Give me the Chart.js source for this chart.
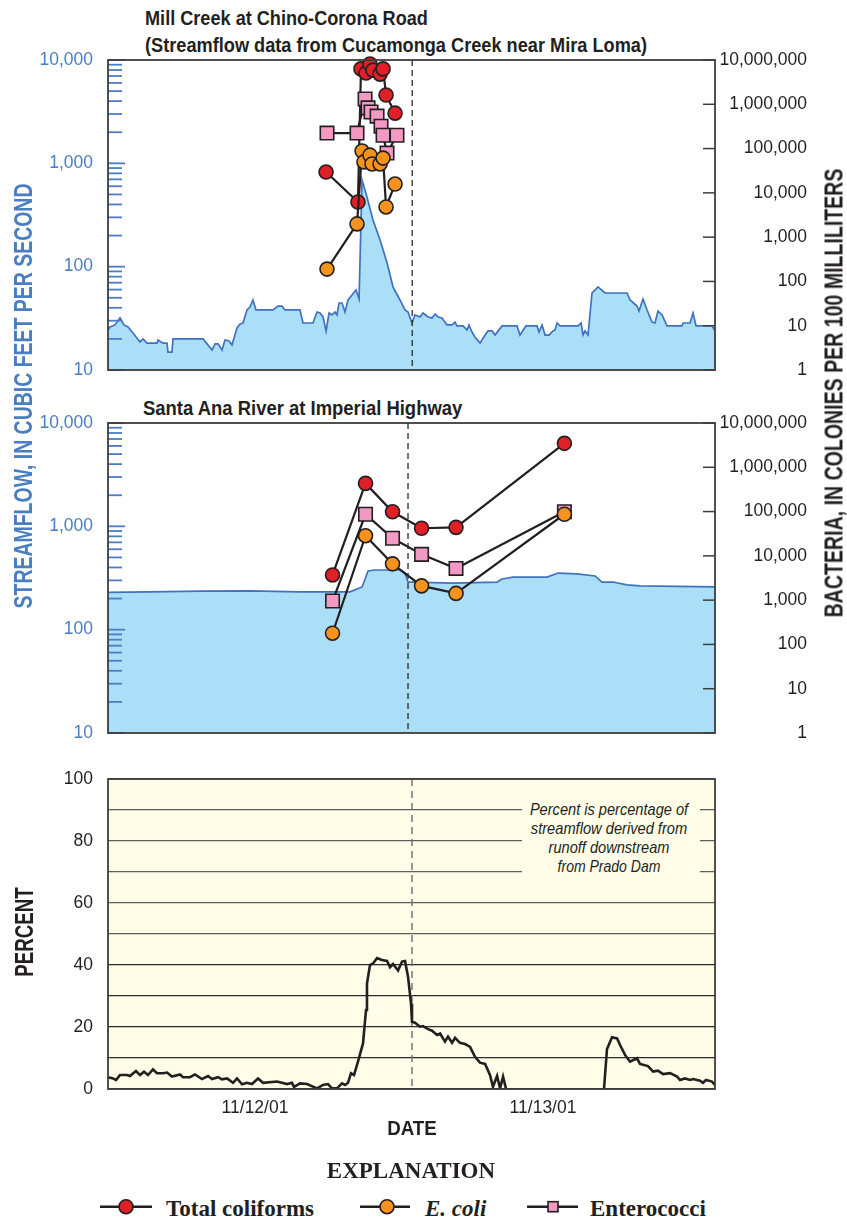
<!DOCTYPE html>
<html>
<head>
<meta charset="utf-8">
<title>Streamflow, bacteria and runoff percentage, November 2001</title>
<script src="https://cdn.jsdelivr.net/npm/chart.js@4.4.1/dist/chart.umd.min.js"></script>
<style>
  html, body { margin: 0; padding: 0; background: #fff; }
  body { width: 847px; height: 1222px; position: relative; overflow: hidden;
         font-family: 'Liberation Sans', Arial, sans-serif; color: #231f20; }
  canvas { position: absolute; left: 0; }
  .txt { position: absolute; white-space: nowrap; line-height: 1; display: inline-block; }
  .left { transform-origin: 0 50%; transform: scaleX(var(--sx, 1)); }
  .mid { transform-origin: 50% 50%; transform: translateX(-50%) scaleX(var(--sx, 1)); }
  .ttl { font-weight: bold; font-size: 21px; }
  .vert { position: absolute; white-space: nowrap; line-height: 1; font-weight: bold; font-size: 25px;
          transform-origin: 50% 50%;
          transform: translate(-50%, -50%) rotate(-90deg) scaleX(var(--sx, 1)); }
  .noteBg { position: absolute; left: 522px; top: 799px; width: 178px; height: 78px; background: #fffce8; }
  .note { font-style: italic; font-size: 17px; }
  .serif { font-family: 'Liberation Serif', 'Times New Roman', serif; font-weight: bold; font-size: 23px; line-height: 23px; position: absolute; white-space: nowrap; }
</style>
</head>
<body>

<div class="txt ttl left" data-w="283" style="left:145px;top:7px">Mill Creek at Chino-Corona Road</div>
<div class="txt ttl left" data-w="502" style="left:145px;top:34px">(Streamflow data from Cucamonga Creek near Mira Loma)</div>
<div class="txt ttl left" data-w="319" style="left:143px;top:397px">Santa Ana River at Imperial Highway</div>

<canvas id="mill" width="847" height="400" style="top:0px"></canvas>
<canvas id="santaAna" width="847" height="380" style="top:380px"></canvas>
<canvas id="percent" width="847" height="385" style="top:750px"></canvas>

<div class="vert" data-w="425" style="left:23px;top:396px;color:#4a7ec3">STREAMFLOW, IN CUBIC FEET PER SECOND</div>
<div class="vert" data-w="449" style="left:834px;top:393px">BACTERIA, IN COLONIES PER 100 MILLILITERS</div>
<div class="vert" data-w="89" style="left:24px;top:932px">PERCENT</div>

<div class="noteBg"></div>
<div class="txt note mid" data-w="158" style="left:609px;top:801px">Percent is percentage of</div>
<div class="txt note mid" data-w="156" style="left:609px;top:820px">streamflow derived from</div>
<div class="txt note mid" data-w="121" style="left:609px;top:839px">runoff downstream</div>
<div class="txt note mid" data-w="103" style="left:609px;top:858px">from Prado Dam</div>

<div class="txt mid" data-w="50" style="left:412px;top:1117px;font-weight:bold;font-size:21px">DATE</div>

<div class="serif" style="left:411px;top:1159px;transform:translateX(-50%)">EXPLANATION</div>
<svg width="847" height="30" style="position:absolute;left:0;top:1192px" xmlns="http://www.w3.org/2000/svg">
  <g stroke="#231f20" stroke-width="2.6">
    <line x1="100" y1="14.7" x2="152" y2="14.7"/>
    <line x1="360" y1="14.7" x2="410" y2="14.7"/>
    <line x1="527" y1="14.7" x2="578" y2="14.7"/>
  </g>
  <circle cx="126" cy="14.7" r="7" fill="#e01f26" stroke="#231f20" stroke-width="1.6"/>
  <circle cx="387" cy="14.7" r="7" fill="#f7931d" stroke="#231f20" stroke-width="1.6"/>
  <rect x="548" y="9.7" width="10" height="10" fill="#f29ac4" stroke="#231f20" stroke-width="1.6"/>
</svg>
<div class="serif" style="left:166px;top:1197px">Total coliforms</div>
<div class="serif" style="left:425px;top:1197px;font-style:italic">E. coli</div>
<div class="serif" style="left:590px;top:1197px">Enterococci</div>

<script>
// Condense HTML labels to their set widths
document.querySelectorAll('[data-w]').forEach(el => {
  el.style.setProperty('--sx', (+el.dataset.w / el.offsetWidth).toFixed(4));
});

// ---------------------------------------------------------------------------
// Time is given in hours from 11/12/01 00:00.
// ---------------------------------------------------------------------------

// Mill Creek at Chino-Corona Road: streamflow, in cubic feet per second
const millHours = [-0.25,-0.08,0.33,0.75,1.08,1.42,1.83,2.42,2.67,3.0,
  3.83,3.92,4.33,4.67,4.75,5.08,5.17,7.67,8.42,8.67,
  8.92,9.25,9.5,9.83,10.08,10.5,10.75,11.0,11.33,11.58,
  11.83,12.08,13.5,13.92,14.25,14.5,15.75,16.0,16.83,17.17,
  17.42,17.67,17.92,18.17,18.42,18.67,18.83,19.0,19.25,19.5,
  19.75,20.08,20.42,20.67,20.92,21.33,21.83,22.42,23.0,23.5,
  24.08,24.5,24.75,25.08,25.33,25.75,26.0,26.42,26.75,27.0,
  27.25,27.58,28.0,28.42,28.67,28.83,29.33,29.67,29.83,30.08,
  30.33,30.75,31.17,31.42,31.75,32.0,32.58,33.83,34.08,34.58,
  35.5,35.67,35.92,36.17,36.5,36.83,37.0,37.17,37.42,38.92,
  39.17,39.33,39.5,39.75,40.08,40.58,41.17,43.0,43.25,43.83,
  44.0,44.33,44.67,45.08,45.33,45.58,45.92,46.33,47.58,47.67,
  48.25,48.5,48.75,50.08,50.33];
const millFlow = [24.4,26.1,27.3,31.9,27.3,26.1,22.8,18.7,20.0,18.2,
  18.2,19.5,18.2,18.2,14.9,14.9,20.0,20.0,15.6,17.9,
  17.9,15.6,19.5,19.1,17.5,25.5,27.9,28.5,38.1,40.7,
  47.6,38.1,38.1,41.6,41.6,38.1,38.1,28.5,28.5,36.4,
  35.6,32.6,23.9,35.6,34.1,36.4,34.1,44.5,44.5,36.4,
  47.6,53.2,59.4,48.7,690,472,283,181,109,63.6,
  47.6,38.1,36.4,28.5,34.1,32.6,35.6,32.6,31.9,34.8,
  32.6,31.9,27.3,27.3,29.1,26.7,26.7,24.4,27.3,23.3,
  20.9,18.2,21.8,23.9,23.9,21.8,26.7,26.7,21.8,26.7,
  26.7,23.3,27.3,21.8,21.8,23.9,24.4,28.5,26.7,26.7,
  28.5,21.8,23.9,21.8,55.6,63.6,55.6,55.6,47.6,41.6,
  37.2,48.7,38.1,29.1,28.5,37.2,34.1,26.7,26.7,28.5,
  28.5,35.6,26.7,26.7,23.9];

// Mill Creek bacteria, in colonies per 100 milliliters
const millColiformHours = [17.92,20.58,20.83,21.25,21.58,21.83,22.42,22.67,22.92,23.67];
const millColiform = [29500,6200,6300000,5100000,8100000,5900000,4800000,6300000,1620000,630000];
const millEcoliHours = [18.0,20.5,20.92,21.08,21.58,21.75,22.42,22.67,22.92,23.67];
const millEcoli = [190,1990,88000,50000,71000,45000,45000,61000,4800,15800];
const millEnteroHours = [18.0,20.5,21.17,21.42,21.67,22.17,22.5,22.67,23.0,23.83];
const millEntero = [224000,224000,1320000,830000,670000,540000,320000,200000,79000,200000];

// Santa Ana River at Imperial Highway: streamflow, in cubic feet per second
const santaAnaHours = [-0.25,3.25,7.5,11.58,15.75,19.92,20.92,21.42,22.0,24.08,
  24.5,24.75,25.17,28.5,32.17,32.58,33.5,35.17,36.33,37.25,
  38.83,40.33,40.92,41.83,43.0,44.08,50.33];
const santaAnaFlow = [230,232,236,237,232,232,259,370,378,378,
  353,289,289,282,289,309,323,323,323,353,
  346,331,289,289,271,265,259];

// Santa Ana River bacteria, in colonies per 100 milliliters
const santaAnaSampleHours = [18.46,21.21,23.46,25.88,28.75,37.78];
const santaAnaColiform = [3700,433000,99000,42000,44000,3470000];
const santaAnaEcoli = [179,28500,6600,2100,1420,87000];
const santaAnaEntero = [955,87000,25000,10800,5200,99000];

// Percentage of streamflow derived from runoff downstream from Prado Dam
const percentHours = [-0.25,0.17,0.42,0.75,1.33,1.58,2.08,2.42,2.75,3.08,
  3.5,3.83,4.33,4.67,5.08,5.75,6.0,6.58,7.0,7.58,
  8.08,8.42,8.92,9.25,9.67,10.17,10.5,10.92,11.33,11.75,
  12.25,12.67,13.83,14.67,15.08,15.25,15.75,16.33,17.17,17.67,
  18.08,18.42,18.83,19.25,19.5,19.75,20.0,20.25,20.58,21.0,
  21.25,21.33,21.58,21.83,22.17,22.58,23.0,23.25,23.5,23.92,
  24.25,24.5,24.75,25.0,25.08,25.33,25.75,26.0,26.42,26.75,
  27.17,27.42,27.83,28.08,28.42,28.67,29.08,29.5,29.92,30.33,
  30.75,31.17,31.58,31.83,32.17,32.42,32.67,32.92,37.0,41.08,
  41.33,41.75,42.17,42.42,42.83,43.25,43.83,44.08,44.75,45.17,
  45.58,46.0,46.58,47.17,47.42,47.83,48.25,48.5,49.08,49.33,
  49.58,50.08,50.33];
const percentValues = [3.8,3.4,2.9,4.5,4.5,4.2,5.8,4.5,5.6,4.5,
  6.3,5.1,5.1,5.3,4.0,4.7,3.8,3.8,4.7,3.2,
  4.2,3.2,3.8,3.1,3.4,2.0,3.4,1.5,2.0,1.6,
  3.4,2.0,2.4,1.6,2.0,0.7,1.8,1.6,0.2,1.3,
  1.6,0.2,0.2,1.8,1.3,2.0,5.1,4.5,8.8,14.7,
  25.5,34,40,40.5,42.2,41.6,41.3,39.3,40.3,38.2,
  41.1,41.3,36.2,27.6,21.7,21.4,20.1,20.3,19.3,18.8,
  17.4,17.9,15.3,16.9,14.9,16.5,14.9,14.5,13.6,10.4,
  8.5,8.1,4.5,0.7,4.2,0.2,4.0,0,null,0,
  12.9,16.7,16.3,14.2,11.0,8.8,9.9,8.1,7.4,5.6,
  5.9,4.8,5.1,4.0,2.9,3.4,2.9,3.2,2.7,2.0,
  2.9,2.4,1.3];

// Axis ticks and labels
const dateTickHours = [12, 36];
const dateTickLabels = ['11/12/01', '11/13/01'];
const flowLabelTicks = [10, 100, 1000, 10000];
const bacteriaTicks = [1, 10, 100, 1000, 10000, 100000, 1000000, 10000000];
const percentGridTicks = [0, 10, 20, 30, 40, 50, 60, 70, 80, 90, 100];
const percentLabelTicks = [0, 20, 40, 60, 80, 100];

// Vertical dashed reference lines (hours)
const millMarkHour = 25.1;
const santaAnaMarkHour = 24.75;
const percentMarkHour = 25.08;

// ---------------------------------------------------------------------------
const HOUR_MIN = -0.25, HOUR_MAX = 50.33;
const SANS = "'Liberation Sans', Arial, sans-serif";
const TICK_SIZE = 17.5;
const INK = '#231f20';
const FLOW_LINE = '#3f72bf', FLOW_FILL = '#abdff7', AXIS_BLUE = '#4a7ec3';
const RED = '#e01f26', ORANGE = '#f7931d', PINK = '#f29ac4';
const CREAM = '#fffce8';

const pts = (xs, ys) => xs.map((x, i) => ({ x, y: ys[i] }));

// minor ticks 1..9 per decade for the streamflow axis
const flowMinorTicks = [];
[10, 100, 1000].forEach(d => { for (let k = 1; k <= 9; k++) flowMinorTicks.push(d * k); });
flowMinorTicks.push(10000);

// Box outline around the plotting area
function framePlugin() {
  return {
    id: 'frame',
    afterDraw(chart) {
      const { ctx, chartArea: a } = chart;
      ctx.save();
      ctx.strokeStyle = '#3d3d3d';
      ctx.lineWidth = 1.8;
      ctx.strokeRect(a.left, a.top, a.right - a.left, a.bottom - a.top);
      ctx.restore();
    }
  };
}

// Short tick marks drawn inward from the left / right edges of the plot
function innerTicksPlugin(axes) {
  return {
    id: 'innerTicks',
    afterDatasetsDraw(chart) {
      const { ctx, chartArea: a } = chart;
      ctx.save();
      axes.forEach(ax => {
        const sc = chart.scales[ax.id];
        ctx.strokeStyle = ax.color;
        ctx.lineWidth = ax.width;
        ax.values.forEach(v => {
          const y = sc.getPixelForValue(v);
          const len = ax.major && ax.major.includes(v) ? ax.majorLength : ax.length;
          const x0 = ax.side === 'left' ? a.left : a.right;
          const x1 = ax.side === 'left' ? a.left + len : a.right - len;
          ctx.beginPath();
          ctx.moveTo(x0, y);
          ctx.lineTo(x1, y);
          ctx.stroke();
        });
      });
      ctx.restore();
    }
  };
}

// Vertical dashed line at a given hour
function markLinePlugin(hour, color, dash, width, hook) {
  const draw = chart => {
    const { ctx, chartArea: a } = chart;
    const x = chart.scales.x.getPixelForValue(hour);
    ctx.save();
    ctx.strokeStyle = color;
    ctx.lineWidth = width;
    ctx.setLineDash(dash);
    ctx.beginPath();
    ctx.moveTo(x, a.top);
    ctx.lineTo(x, a.bottom);
    ctx.stroke();
    ctx.restore();
  };
  return { id: 'markLine', [hook]: draw };
}

function bacteriaDataset(label, hours, values, color, style, order) {
  return {
    label, data: pts(hours, values), yAxisID: 'y1', order,
    borderColor: INK, borderWidth: 2.2, tension: 0, fill: false,
    pointStyle: style, pointRadius: style === 'rect' ? 9.5 : 7,
    pointBackgroundColor: color, pointBorderColor: INK, pointBorderWidth: 1.6,
    clip: false
  };
}

function flowPanel(id, cfg) {
  return new Chart(document.getElementById(id), {
    type: 'line',
    data: {
      datasets: [
        { label: 'Streamflow', data: pts(cfg.flowHours, cfg.flow), yAxisID: 'y', order: 10,
          borderColor: FLOW_LINE, backgroundColor: FLOW_FILL, borderWidth: 1.7,
          fill: 'start', pointRadius: 0, tension: 0 },
        bacteriaDataset('Total coliforms', cfg.colHours, cfg.coliform, RED, 'circle', 3),
        bacteriaDataset('Enterococci', cfg.entHours, cfg.entero, PINK, 'rect', 2),
        bacteriaDataset('E. coli', cfg.ecoHours, cfg.ecoli, ORANGE, 'circle', 1)
      ]
    },
    options: {
      responsive: false, animation: false, events: [],
      layout: { padding: { top: cfg.padTop, bottom: cfg.padBottom, left: 0, right: 40 } },
      plugins: { legend: { display: false }, tooltip: { enabled: false } },
      scales: {
        x: { type: 'linear', min: HOUR_MIN, max: HOUR_MAX, display: false },
        y: {
          type: 'logarithmic', position: 'left', min: 10, max: 10000,
          afterBuildTicks: s => { s.ticks = flowMinorTicks.map(v => ({ value: v })); },
          afterFit: s => { s.width = 108; },
          grid: { display: false, drawTicks: false },
          border: { display: false },
          ticks: {
            autoSkip: false, padding: 15, color: AXIS_BLUE,
            font: { family: SANS, size: TICK_SIZE },
            callback: v => flowLabelTicks.includes(v) ? v.toLocaleString('en-US') : ''
          }
        },
        y1: {
          type: 'logarithmic', position: 'right', min: 1, max: 10000000,
          afterBuildTicks: s => { s.ticks = bacteriaTicks.map(v => ({ value: v })); },
          afterFit: s => { s.width = 92; },
          grid: { display: false, drawTicks: false },
          border: { display: false },
          ticks: {
            autoSkip: false, padding: 5, crossAlign: 'far', color: INK,
            font: { family: SANS, size: TICK_SIZE },
            callback: v => v.toLocaleString('en-US')
          }
        }
      }
    },
    plugins: [
      framePlugin(),
      innerTicksPlugin([
        { id: 'y', side: 'left', values: flowMinorTicks, major: flowLabelTicks,
          length: 14, majorLength: 17, color: AXIS_BLUE, width: 1.8 },
        { id: 'y1', side: 'right', values: bacteriaTicks, length: 12, color: '#3d3d3d', width: 1.5 }
      ]),
      markLinePlugin(cfg.markHour, '#2a2a2a', [6, 4], 1.3, 'afterDatasetsDraw')
    ]
  });
}

flowPanel('mill', {
  flowHours: millHours, flow: millFlow,
  colHours: millColiformHours, coliform: millColiform,
  ecoHours: millEcoliHours, ecoli: millEcoli,
  entHours: millEnteroHours, entero: millEntero,
  markHour: millMarkHour, padTop: 60, padBottom: 30
});

flowPanel('santaAna', {
  flowHours: santaAnaHours, flow: santaAnaFlow,
  colHours: santaAnaSampleHours, coliform: santaAnaColiform,
  ecoHours: santaAnaSampleHours, ecoli: santaAnaEcoli,
  entHours: santaAnaSampleHours, entero: santaAnaEntero,
  markHour: santaAnaMarkHour, padTop: 43, padBottom: 27
});

// Percent panel
new Chart(document.getElementById('percent'), {
  type: 'line',
  data: {
    datasets: [{
      label: 'Percent', data: pts(percentHours, percentValues),
      borderColor: INK, borderWidth: 2.6, pointRadius: 0, tension: 0,
      fill: false, spanGaps: false
    }]
  },
  options: {
    responsive: false, animation: false, events: [],
    layout: { padding: { top: 29, bottom: 16, left: 0, right: 132 } },
    plugins: { legend: { display: false }, tooltip: { enabled: false } },
    scales: {
      x: {
        type: 'linear', min: HOUR_MIN, max: HOUR_MAX,
        afterBuildTicks: s => { s.ticks = dateTickHours.map(v => ({ value: v })); },
        afterFit: s => { s.height = 30; },
        grid: { display: false, drawTicks: false },
        border: { display: false },
        ticks: {
          autoSkip: false, maxRotation: 0, padding: 9, color: INK,
          font: { family: SANS, size: TICK_SIZE },
          callback: v => dateTickLabels[dateTickHours.indexOf(v)] || ''
        }
      },
      y: {
        type: 'linear', min: 0, max: 100,
        afterBuildTicks: s => { s.ticks = percentGridTicks.map(v => ({ value: v })); },
        afterFit: s => { s.width = 108; },
        grid: {
          drawTicks: false, lineWidth: 1.3,
          color: c => (c.tick && c.tick.value >= 50) ? '#5e5e5e' : '#2b2b2b'
        },
        border: { display: false },
        ticks: {
          autoSkip: false, padding: 15, color: INK,
          font: { family: SANS, size: TICK_SIZE },
          callback: v => percentLabelTicks.includes(v) ? String(v) : ''
        }
      }
    }
  },
  plugins: [
    {
      id: 'cream',
      beforeDraw(chart) {
        const { ctx, chartArea: a } = chart;
        ctx.save();
        ctx.fillStyle = CREAM;
        ctx.fillRect(a.left, a.top, a.right - a.left, a.bottom - a.top);
        ctx.restore();
      }
    },
    markLinePlugin(percentMarkHour, '#6b6b6b', [7, 5], 1.4, 'beforeDatasetsDraw'),
    framePlugin()
  ]
});
</script>
</body>
</html>
